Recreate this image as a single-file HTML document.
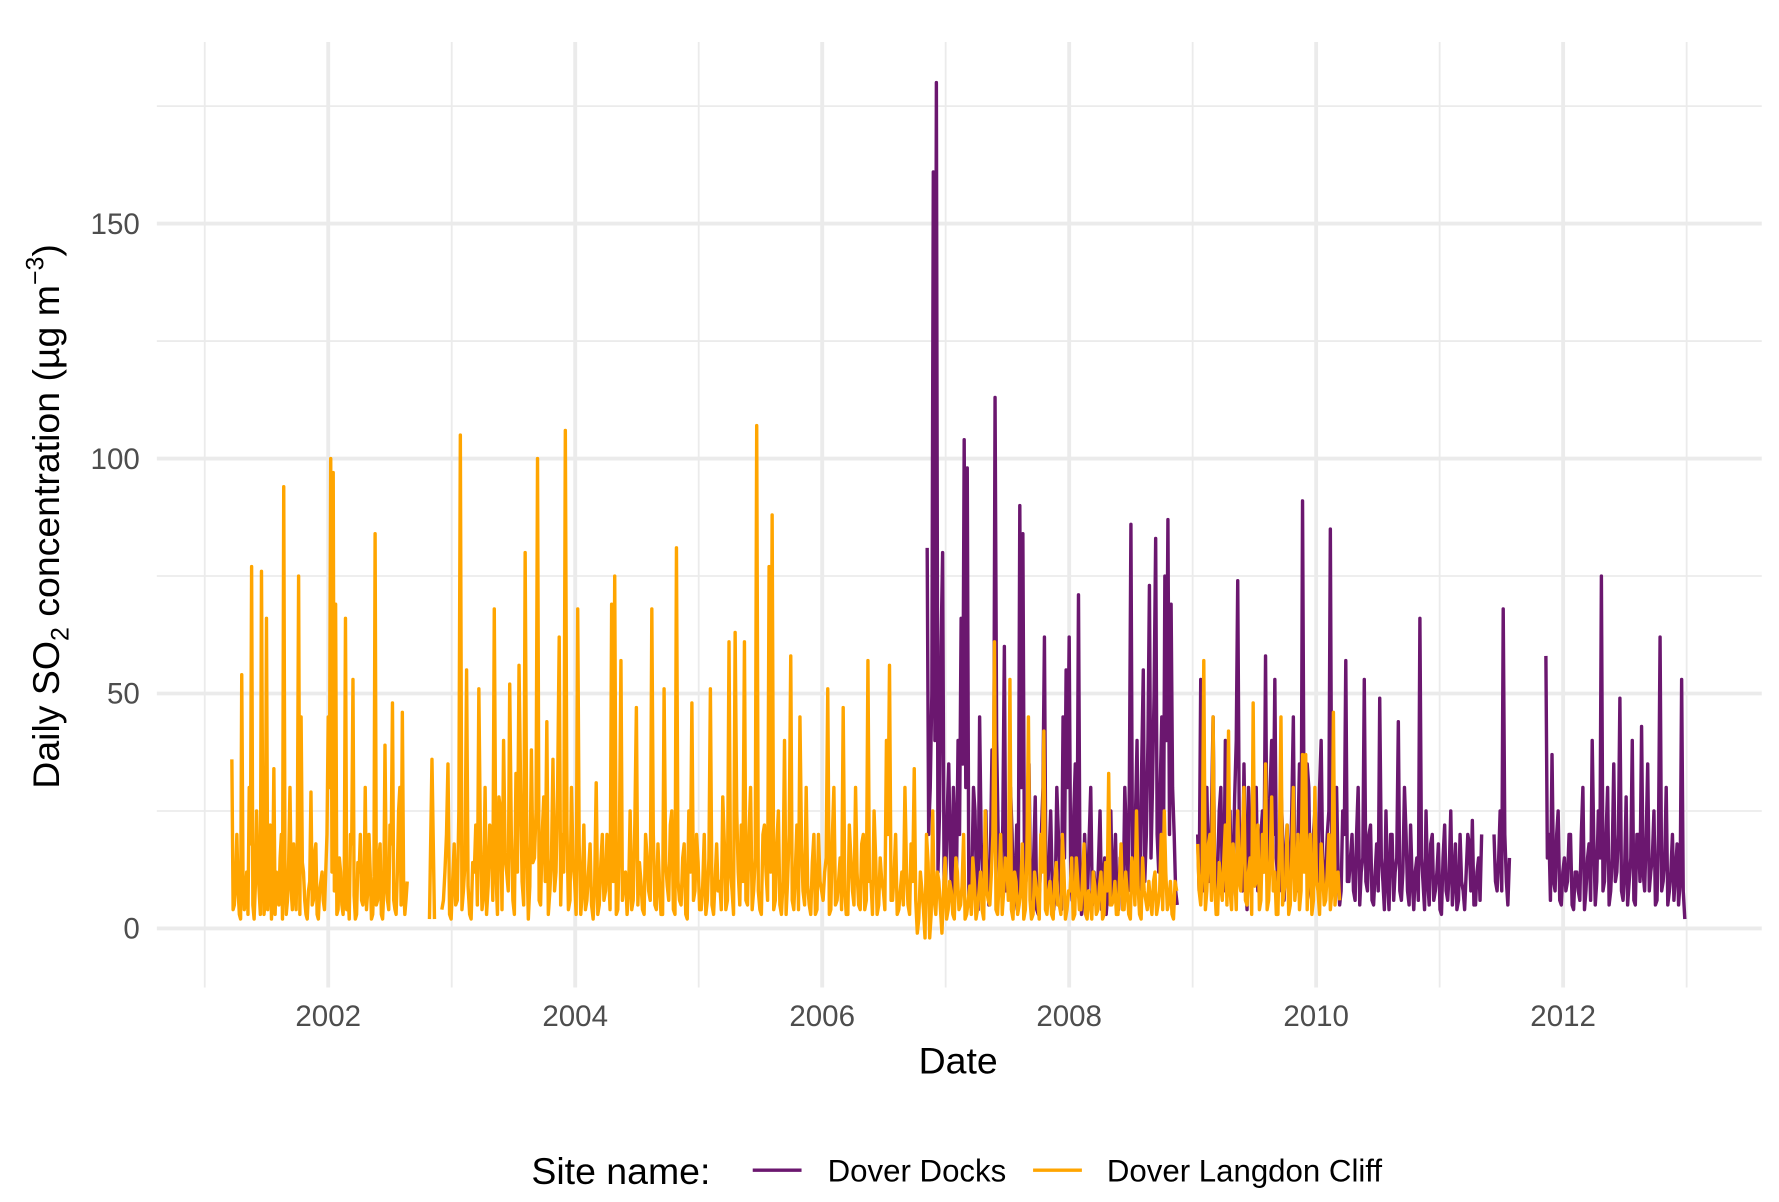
<!DOCTYPE html>
<html><head><meta charset="utf-8"><style>
html,body{margin:0;padding:0;background:#fff;}
svg{display:block;font-family:"Liberation Sans",Arial,sans-serif;}
</style></head><body>
<svg id="chart" width="1779" height="1202" viewBox="0 0 1567 1059" xmlns="http://www.w3.org/2000/svg">
<g id="grid"></g>
<g id="series"></g>
<g id="axes"></g>
<text x="844" y="946" font-size="33" text-anchor="middle" fill="#000">Date</text>
<text transform="translate(52,455) rotate(-90)" font-size="33" text-anchor="middle" fill="#000">Daily SO<tspan font-size="22" dy="8">2</tspan><tspan dy="-8"> concentration (µg m</tspan><tspan font-size="22" dy="-14">−3</tspan><tspan dy="14">)</tspan></text>
<g>
<text x="468" y="1043" font-size="33" fill="#000">Site name:</text>
<line x1="663" y1="1031" x2="706" y2="1031" stroke="#6b176f" stroke-width="3"/>
<text x="729" y="1041" font-size="27.5" fill="#000">Dover Docks</text>
<line x1="910" y1="1031" x2="953" y2="1031" stroke="#FFA500" stroke-width="3"/>
<text x="975" y="1041" font-size="27.5" fill="#000">Dover Langdon Cliff</text>
</g>
</svg>
<script>
const xMajorTicks = [2002, 2004, 2006, 2008, 2010, 2012];
const xMinorTicks = [2001, 2003, 2005, 2007, 2009, 2011, 2013];
const yMajorTicks = [0, 50, 100, 150];
const yMinorTicks = [25, 75, 125, 175];
const langdonSegments = [
 {start: 2001.22, step: 0.02, values: [36,5,20,3,54,4,12,30,77,2,25,8,76,3,66,10,2,34,12,5,20,94,3,15,8,18,4,75,45,12,3,8,29,6,18,2,10,6,12,45,100,97,69,4,12,3,66,8,20,53,2,14,20,5,30,8,12,3,84,6,18,2,39,6,22,48,4,12,30,46,3,10],
  mid: [4,10,8,2,12,6,3,18,5,9,14,3,20,6,4,22,8,3,10,15,2,12,6,30,4,9,20,3,14,6,2,10,5,16,3,8,12,4,20,30,12,8,3,15,5,10,4,2,18,7,3,12,6,9,4,20,2,11,5,15,3,8,12,4,18,6,3,25,5,10,6,4]},
 {start: 2002.82, step: 0.02, values: [2,36,2], mid: []},
 {start: 2002.92, step: 0.025, values: [4,12,35,2,18,6,105,8,55,3,14,22,51,4,30,9,20,68,3,25,40,12,52,6,33,56,10,80,2,38,15,100,5,28,44,8,36,12,62,20,106,4,30,10,68,3,22,6,18,2,31,5,20,8,12,69,75,4,57,10,3,25,6,47,14,4,20,8,68,5,18,3,51,9,22,4,81,6,15,3,25,48,8,14,4,20,6,51,3,18,10,28,4,61,8,63,12,22,61,5,30,8,107,4,20,12,77,88,6,25,3,40,10,58,4,22,45,8,30,5,14,3,20,8,12,51,4,30,6,15,47,3,22,8,30,5,18,4,57,10,25,3,15,8,40,56,6,20,4,12,30,5,18,34,-1,12,4,20,-2,25,3,10,-1,15,4,8,2,12,5,20,3,9,15,2,8,4,25,6,12,61,3,20,8,14,53,2,10,5,18,4,45,2,12,6,20,42,3,10,2,14,5,20,2,8,15,3,10,4,18,2,6,12,3,9,2,14,33,5,10,3,18,4,8,2,12,25,3,15,6,10,3,12,5,20,25,4,10,2,8],
  mid: [6,20,3,10,5,25,4,14,9,2,12,5,18,7,3,22,6,12,28,4,15,8,20,3,12,30,5,18,9,14,25,6,20,10,3,15,8,30,5,12,22,6,14,3,18,8,4,12,5,9,3,14,6,20,4,10,3,18,6,12,8,4,22,5,10,3,15,6,20,4,9,3,14,6,25,3,10,5,18,2,12,6,20,4,9,3,15,5,10,8,4,18,6,12,3,25,5,10,6,20,4,15,8,3,22,6,12,4,18,5,10,3,20,6,12,4,18,5,9,3,20,4,10,6,15,3,20,5,10,4,8,3,15,5,12,4,20,6,10,3,15,5,10,4,20,6,12,3,8,5,12,3,10,6,2,8,-2,14,3,6,12,4,8,2,10,3,15,4,9,2,6,3,10,4,12,2,8,5,20,4,10,3,15,6,4,12,3,8,2,15,6,3,9,2,12,4,8,3,10,5,3,12,4,8,2,15,4,10,3,8,2,9,4,12,3,8,5,6,3,10,4,12,3,15,5,9,2,8,4,6,10,3,8,4,12,6,3,10,4]},
 {start: 2009.04, step: 0.025, values: [18,5,57,8,20,45,3,14,6,22,42,4,12,25,8,30,5,15,48,10,4,20,35,6,28,12,3,45,8,22,5,30,10,4,37,37,15,3,30,8,18,5,12,4,46,10,6],
  mid: [8,12,4,18,6,10,3,9,15,5,8,18,4,10,20,6,12,3,9,22,6,12,4,15,8,3,18,5,10,3,15,6,20,8,12,4,20,6,10,3,12,6,20,8,5,12,3]}
];
const docksSegments = [
 {start: 2006.85, step: 0.025, values: [81,30,161,180,25,80,10,35,6,20,40,66,104,98,15,30,8,45,12,25,5,38,113,20,8,60,12,30,4,22,90,84,10,35,6,28,3,20,62,8,25,4,30,12,45,55,62,6,35,71,3,20,8,30,12,4,25,10,3,15,6,20,4,12,30,8,86,15,40,10,55,20,73,30,83,12,45,75,87,69,20,5],
  mid: [20,50,40,12,60,8,25,15,30,10,20,35,30,6,12,25,4,18,8,10,15,20,40,10,22,8,15,20,10,5,30,12,20,8,15,4,10,30,5,15,10,8,20,4,15,30,10,25,8,12,6,10,20,5,8,14,4,15,8,25,10,4,15,6,20,30,12,25,8,35,10,40,15,50,20,30,10,40,20,30,8,4]},
 {start: 2009.04, step: 0.025, values: [20,53,8,30,12,45,5,25,10,40,15,6,28,74,10,35,4,20,12,30,8,25,58,15,40,53,10,30,6,22,12,45,8,35,91,15,30,6,25,10,40,8,20,85,12,30,5,25,57,10,20,6,30,12,53,8,22,5,18,49,10,25,4,20,12,44,6,30,8,22,4,15,66,10,25,5,20,8,18,3,22,6,25,10,4,20,8,12,18,23,5,15,20],
  mid: [8,20,30,10,25,15,12,30,8,15,25,12,40,20,8,15,30,10,25,8,20,12,10,30,20,15,8,20,15,10,25,10,20,12,20,35,8,20,10,30,15,12,25,10,20,12,8,20,10,15,8,20,5,15,10,20,6,12,8,15,4,10,20,6,15,8,12,20,5,10,12,6,15,4,10,18,6,12,4,15,8,12,5,18,6,10,4,20,8,5,12,6,10]},
 {start: 2011.44, step: 0.025, values: [20,8,25,68,10,15], mid: [10,15,8,20,5,8]},
 {start: 2011.86, step: 0.025, values: [58,20,37,8,25,5,15,10,20,4,12,6,30,8,18,40,5,25,75,10,30,8,35,12,49,6,28,10,40,5,20,43,8,35,12,25,6,62,10,30,8,20,12,5,53,2],
  mid: [15,6,10,20,6,12,8,20,5,12,8,20,4,15,6,20,10,15,8,20,5,15,10,20,8,12,5,15,6,20,10,12,20,8,15,5,20,8,15,5,12,6,18,10,8,5]}
];
const NS = "http://www.w3.org/2000/svg";
const X0 = 138, X1 = 1552, Y0 = 37, Y1 = 870;
function xScale(yr){ return 289 + (yr - 2002) * 108.8; }
function yScale(v){ return 818 - v * 4.14; }
function mk(tag, attrs, parent){ const e = document.createElementNS(NS, tag); for (const k in attrs) e.setAttribute(k, attrs[k]); parent.appendChild(e); return e; }
const grid = document.getElementById('grid');
const axes = document.getElementById('axes');
yMinorTicks.forEach(t => {
  const l = mk('line', {x1: X0, x2: X1, y1: yScale(t), y2: yScale(t), stroke: '#ebebeb', 'stroke-width': 1.6}, grid);
  
  
});
xMinorTicks.forEach(t => {
  const l = mk('line', {x1: xScale(t), x2: xScale(t), y1: Y0, y2: Y1, stroke: '#ebebeb', 'stroke-width': 1.6}, grid);
  
  
});
yMajorTicks.forEach(t => {
  const l = mk('line', {x1: X0, x2: X1, y1: yScale(t), y2: yScale(t), stroke: '#ebebeb', 'stroke-width': 3.4}, grid);
  
  
  const tx = mk('text', {x: 123, y: yScale(t) + 9, 'font-size': 26, fill: '#4d4d4d', 'text-anchor': 'end'}, axes);
  tx.textContent = t;
  
  
});
xMajorTicks.forEach(t => {
  const l = mk('line', {x1: xScale(t), x2: xScale(t), y1: Y0, y2: Y1, stroke: '#ebebeb', 'stroke-width': 3.4}, grid);
  
  
  const tx = mk('text', {x: xScale(t), y: 904, 'font-size': 26, fill: '#4d4d4d', 'text-anchor': 'middle'}, axes);
  tx.textContent = t;
  
  
});
const series = document.getElementById('series');
function drawSeries(segs, color, name){
  segs.forEach(s => {
    const pts = [];
    s.values.forEach((v, i) => {
      pts.push(xScale(s.start + i * s.step).toFixed(1) + ',' + yScale(v).toFixed(1));
      if (s.mid && i < s.mid.length && i < s.values.length - 1) {
        pts.push(xScale(s.start + (i + 0.5) * s.step).toFixed(1) + ',' + yScale(s.mid[i]).toFixed(1));
      }
    });
    const p = mk('polyline', {points: pts.join(' '), fill: 'none', stroke: color, 'stroke-width': 3, 'stroke-linejoin': 'round'}, series);
    
    
  });
}
drawSeries(docksSegments, '#6b176f', 'dover-docks-line');
drawSeries(langdonSegments, '#FFA500', 'dover-langdon-cliff-line');
</script>
</body></html>
